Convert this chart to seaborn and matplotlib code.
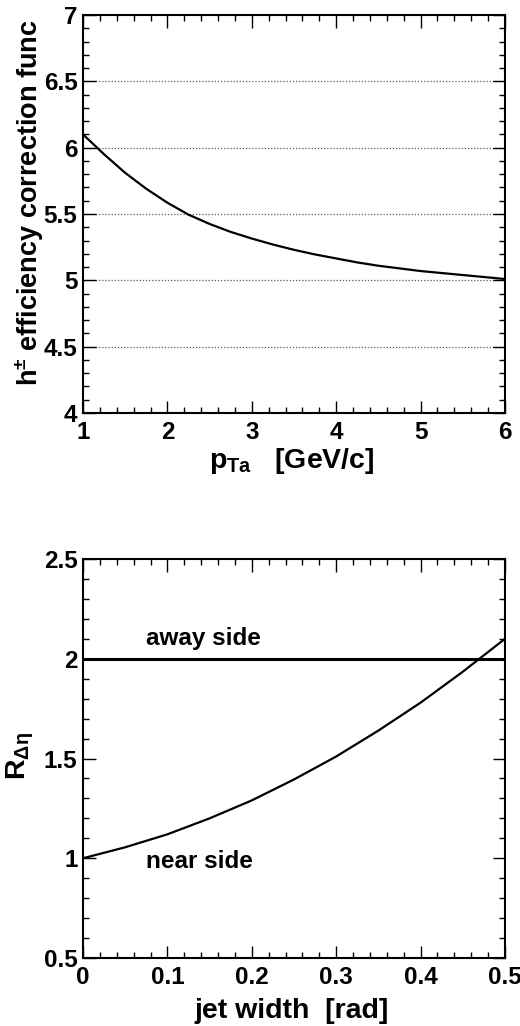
import numpy as np
import pandas as pd
import matplotlib
matplotlib.use("Agg")
import matplotlib.pyplot as plt
import seaborn as sns
from matplotlib.ticker import MultipleLocator, FuncFormatter

# ---- data ----
pt_ta = [1.0, 1.25, 1.5, 1.75, 2.0, 2.25, 2.5, 2.75, 3.0, 3.25, 3.5,
         3.75, 4.0, 4.25, 4.5, 4.75, 5.0, 5.25, 5.5, 5.75, 6.0]
eff_corr = [6.10, 5.95, 5.81, 5.69, 5.585, 5.495, 5.425, 5.365, 5.315, 5.27, 5.23,
            5.195, 5.165, 5.135, 5.11, 5.09, 5.07, 5.055, 5.04, 5.025, 5.01]

jet_width = [0.0, 0.05, 0.10, 0.15, 0.20, 0.25, 0.30, 0.35, 0.40, 0.45, 0.50]
r_near = [1.00, 1.055, 1.12, 1.20, 1.29, 1.395, 1.51, 1.64, 1.78, 1.935, 2.10]
away_x = [0.0, 0.5]
r_away = [2.0, 2.0]

top_grid_levels = [4.5, 5.0, 5.5, 6.0, 6.5]

# ---- style ----
sns.set_style("ticks")
plt.rcParams["font.family"] = ["Liberation Sans", "DejaVu Sans"]
plt.rcParams["font.weight"] = "bold"
plt.rcParams["text.color"] = "black"
plt.rcParams["axes.labelcolor"] = "black"
plt.rcParams["xtick.color"] = "black"
plt.rcParams["ytick.color"] = "black"
plt.rcParams["axes.edgecolor"] = "black"
plt.rcParams["mathtext.fontset"] = "custom"
plt.rcParams["mathtext.rm"] = "Liberation Sans:bold"
plt.rcParams["mathtext.bf"] = "Liberation Sans:bold"
plt.rcParams["mathtext.it"] = "Liberation Sans:bold"
plt.rcParams["mathtext.default"] = "bf"

TICK_FS = 17.5
LABEL_FS = 20.5

fig = plt.figure(figsize=(5.2, 10.26), dpi=100)
W, H = 520, 1026
ax1 = fig.add_axes([83 / W, 1 - 413 / H, 422 / W, 398 / H])
ax2 = fig.add_axes([83 / W, 1 - 958 / H, 422 / W, 399 / H])

fmt = FuncFormatter(lambda v, p: "%g" % round(v, 6))

def style_axis(ax):
    for s in ax.spines.values():
        s.set_linewidth(1.5)
        s.set_color("black")
        s.set_visible(True)
    ax.tick_params(which="both", direction="in", top=True, right=True,
                   bottom=True, left=True, color="black", labelcolor="black")
    ax.tick_params(which="major", length=9, width=1.0, labelsize=TICK_FS)
    ax.tick_params(which="minor", length=4.5, width=1.0)
    ax.tick_params(axis="x", which="major", pad=6)
    ax.tick_params(axis="y", which="major", pad=4)
    ax.xaxis.set_major_formatter(fmt)
    ax.yaxis.set_major_formatter(fmt)
    for lab in ax.get_xticklabels() + ax.get_yticklabels():
        lab.set_fontweight("bold")

# ---- top panel ----
df_top = pd.DataFrame({"pt": pt_ta, "eff": eff_corr})
for lv in top_grid_levels:
    ax1.axhline(lv, color="0.35", lw=0.9, ls=(0, (1, 1.5)), zorder=0)
sns.lineplot(data=df_top, x="pt", y="eff", ax=ax1, color="black", lw=1.6)
ax1.set_xlim(1, 6)
ax1.set_ylim(4, 7)
ax1.xaxis.set_major_locator(MultipleLocator(1))
ax1.xaxis.set_minor_locator(MultipleLocator(0.2))
ax1.yaxis.set_major_locator(MultipleLocator(0.5))
ax1.yaxis.set_minor_locator(MultipleLocator(0.1))
style_axis(ax1)
ax1.set_xlabel(r"$\mathbf{p}_{\mathbf{Ta}}$   [GeV/c]", fontsize=LABEL_FS,
               fontweight="bold", color="black")
ax1.set_ylabel(r"h$^{\pm}$ efficiency correction func", fontsize=LABEL_FS - 1,
               fontweight="bold", va="center", ha="center", color="black")
ax1.xaxis.set_label_coords((292 - 83) / 422, -(446 - 413) / 398)
ax1.yaxis.set_label_coords((30 - 83) / 422, 1 - (203 - 15) / 398)

# ---- bottom panel ----
df_near = pd.DataFrame({"w": jet_width, "r": r_near})
df_away = pd.DataFrame({"w": away_x, "r": r_away})
sns.lineplot(data=df_away, x="w", y="r", ax=ax2, color="black", lw=2.2)
sns.lineplot(data=df_near, x="w", y="r", ax=ax2, color="black", lw=1.6)
ax2.set_xlim(0, 0.5)
ax2.set_ylim(0.5, 2.5)
ax2.xaxis.set_major_locator(MultipleLocator(0.1))
ax2.xaxis.set_minor_locator(MultipleLocator(0.02))
ax2.yaxis.set_major_locator(MultipleLocator(0.5))
ax2.yaxis.set_minor_locator(MultipleLocator(0.1))
style_axis(ax2)
ax2.set_xlabel("jet width  [rad]", fontsize=LABEL_FS, fontweight="bold",
               color="black")
ax2.xaxis.set_label_coords((292 - 83) / 422, -(998 - 958) / 399)
ax2.set_ylabel(r"R$_{\mathregular{\Delta\eta}}$", fontsize=LABEL_FS,
               fontweight="bold", va="center", ha="center", color="black")
ax2.yaxis.set_label_coords((20 - 83) / 422, 1 - (756 - 559) / 399)

ax2.text(0.0746, 2.069, "away side", fontsize=TICK_FS, fontweight="bold",
         ha="left", va="baseline", color="black")
ax2.text(0.0746, 0.951, "near side", fontsize=TICK_FS, fontweight="bold",
         ha="left", va="baseline", color="black")

fig.savefig("out.png", dpi=100)
